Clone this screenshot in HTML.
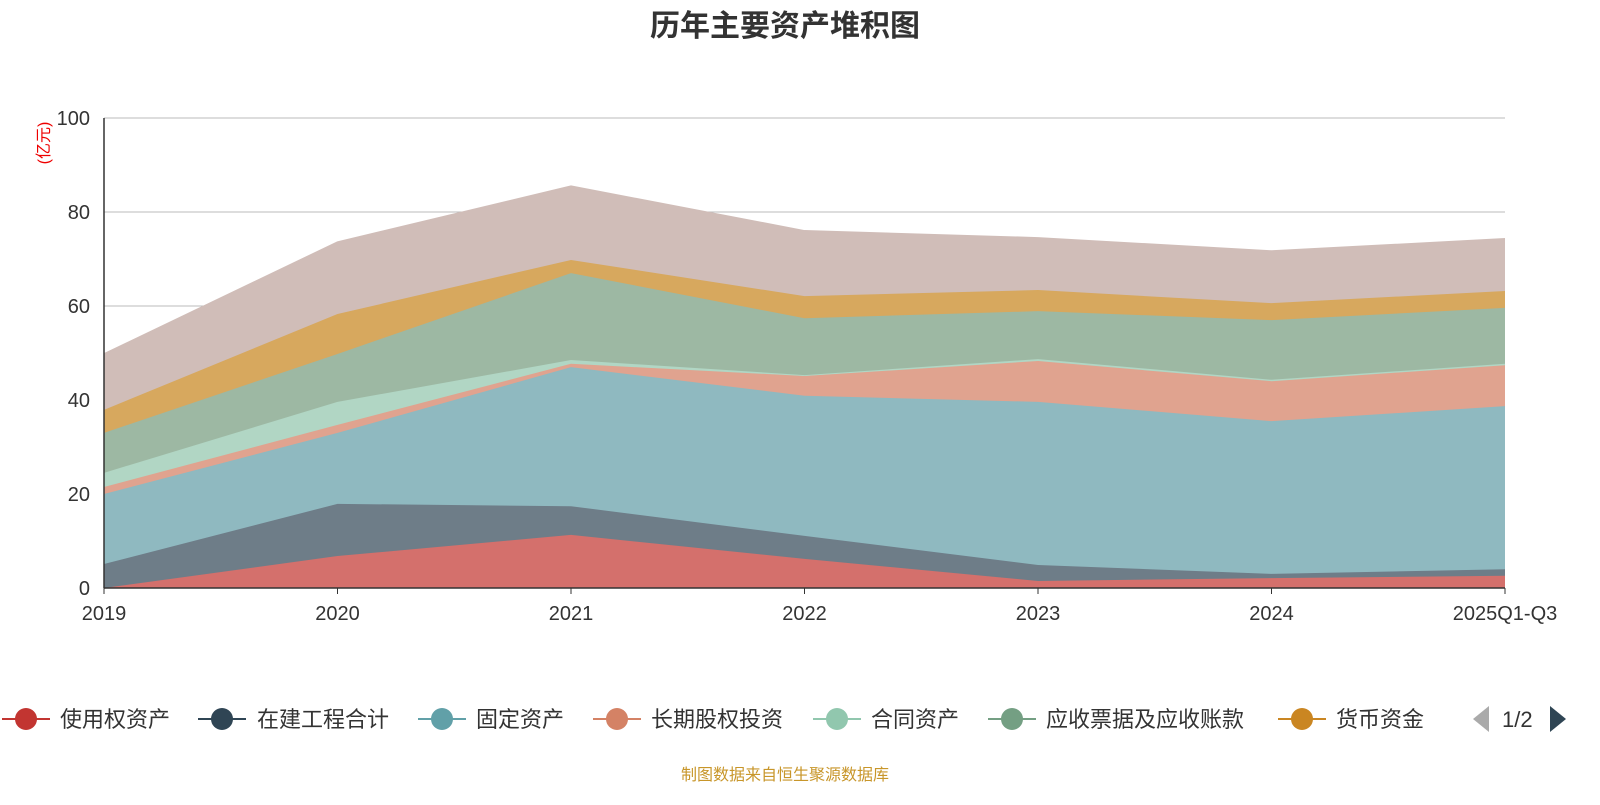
<!DOCTYPE html>
<html><head><meta charset="utf-8"><style>
body{margin:0;background:#fff;width:1600px;height:800px;overflow:hidden;font-family:"Liberation Sans","Noto Sans CJK SC",sans-serif}
</style></head><body>
<svg id="chart" width="1600" height="800" xmlns="http://www.w3.org/2000/svg" font-family="Liberation Sans, Noto Sans CJK SC, sans-serif">
<text x="785" y="36" text-anchor="middle" font-size="30" font-weight="bold" fill="#333">历年主要资产堆积图</text>
<text transform="translate(49,143) rotate(-90)" text-anchor="middle" font-size="16" fill="#e00">(亿元)</text>
<g id="grid"></g><g id="areas"></g><g id="axes"></g><g id="legend"></g>
<text x="785" y="780" text-anchor="middle" font-size="16" fill="#c8962a">制图数据来自恒生聚源数据库</text>
</svg>
<script>
const categories=["2019","2020","2021","2022","2023","2024","2025Q1-Q3"];
const seriesNames=["使用权资产","在建工程合计","固定资产","长期股权投资","合同资产","应收票据及应收账款","货币资金","其他"];
const s0=[0,6.8,11.3,6.2,1.5,2.1,2.6];
const s1=[5.1,11.1,6.1,4.9,3.4,0.9,1.4];
const s2=[14.9,15.1,29.6,29.8,34.7,32.5,34.7];
const s3=[1.5,1.7,0.7,4.2,8.7,8.5,8.7];
const s4=[3,4.9,0.8,0.2,0.4,0.3,0.3];
const s5=[8.5,10.2,18.5,12.1,10.2,12.7,11.9];
const s6=[4.9,8.5,2.8,4.7,4.5,3.6,3.6];
const s7=[11.9,15.3,15.7,13.9,11.1,11.1,11.1];
const yTicks=[0,20,40,60,80,100];
const series=[s0,s1,s2,s3,s4,s5,s6,s7];
const fills=["#d4706c","#6e7d88","#8fb9c0","#e0a38f","#b1d6c4","#9db8a3","#d7a85e","#d0bdb8"];
const strokes=["#c23531","#2f4554","#61a0a8","#d48265","#91c7ae","#749f83","#ca8622","#bda29a"];
const NS="http://www.w3.org/2000/svg";
const x0=104,x1=1505,yB=588,yT=118;
const xs=i=>x0+(x1-x0)*i/(categories.length-1);
const ys=v=>yB-(yB-yT)*v/100;
function mk(tag,attrs,parent){const e=document.createElementNS(NS,tag);for(const k in attrs)e.setAttribute(k,attrs[k]);parent.appendChild(e);return e;}
const grid=document.getElementById('grid'),areas=document.getElementById('areas'),axes=document.getElementById('axes'),legend=document.getElementById('legend');
yTicks.forEach(t=>{
 if(t>0){const l=mk('line',{x1:x0,x2:x1,y1:ys(t),y2:ys(t),stroke:'#bbb','stroke-width':1},grid);
 
 }
 const tx=mk('text',{x:x0-14,y:ys(t)+7,'text-anchor':'end','font-size':20,fill:'#333'},axes);tx.textContent=t;
 
 
});
let base=categories.map(()=>0);
series.forEach((s,k)=>{
 const top=base.map((b,i)=>b+s[i]);
 let d='M'+top.map((v,i)=>xs(i)+','+ys(v)).join('L');
 for(let i=base.length-1;i>=0;i--)d+='L'+xs(i)+','+ys(base[i]);
 const p=mk('path',{d:d+'Z',fill:fills[k],stroke:'none'},areas);
 
 
 const ln=mk('polyline',{points:top.map((v,i)=>xs(i)+','+ys(v)).join(' '),fill:'none',stroke:fills[k],'stroke-width':1.5},areas);
 
 
 base=top;
});
const ax=mk('line',{x1:x0,x2:x1,y1:yB,y2:yB,stroke:'#333','stroke-width':1.5},axes);


const ay=mk('line',{x1:x0,x2:x0,y1:yT,y2:yB,stroke:'#333','stroke-width':1.5},axes);


categories.forEach((c,i)=>{
 const tk=mk('line',{x1:xs(i),x2:xs(i),y1:yB,y2:yB+6,stroke:'#333'},axes);
 
 
 const t=mk('text',{x:xs(i),y:620,'text-anchor':'middle','font-size':20,fill:'#333'},axes);t.textContent=c;
 
 
});
const legX=[2,198,418,593,813,988,1278];
const legW=[[60,"使用权资产"],[257,"在建工程合计"],[476,"固定资产"],[651,"长期股权投资"],[871,"合同资产"],[1046,"应收票据及应收账款"],[1336,"货币资金"]];
legX.forEach((lx,k)=>{
 const g=mk('g',{},legend);
 
 
 mk('line',{x1:lx,x2:lx+48,y1:719,y2:719,stroke:strokes[k],'stroke-width':2},g);
 mk('circle',{cx:lx+24,cy:719,r:11,fill:strokes[k]},g);
 const t=mk('text',{x:legW[k][0],y:727,'font-size':22,fill:'#333'},g);t.textContent=seriesNames[k];
});
const pl=mk('path',{d:'M1473,719 L1489,706 L1489,732 Z',fill:'#aaa'},legend);


const pt=mk('text',{x:1502,y:727,'font-size':22,fill:'#333'},legend);pt.textContent='1/2';


const pn=mk('path',{d:'M1566,719 L1550,706 L1550,732 Z',fill:'#2f4554'},legend);


</script>
</body></html>
